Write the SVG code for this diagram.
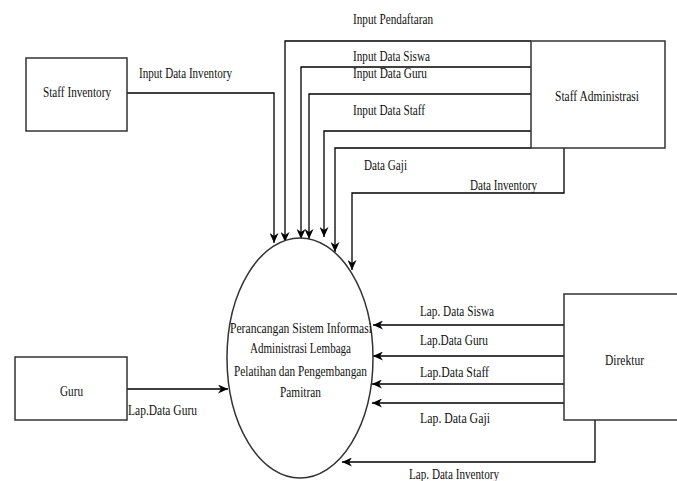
<svg xmlns="http://www.w3.org/2000/svg" width="677" height="481" viewBox="0 0 677 481">
<defs>
<marker id="arr" markerUnits="userSpaceOnUse" markerWidth="11" markerHeight="9" refX="10" refY="4.5" orient="auto">
<path d="M0,0 L10,4.5 L0,9 L3,4.5 z" fill="#000"/>
</marker>
<style>
.box{fill:#fff;stroke:#333;stroke-width:1.5}
.c{fill:none;stroke:#000;stroke-width:1.3;marker-end:url(#arr)}
text{font-family:"Liberation Serif","Times New Roman",serif;font-size:14px;fill:#111}
.m{text-anchor:middle}
</style>
</defs>
<rect width="677" height="481" fill="#fff"/>
<g id="connectors">
<path class="c" d="M127,93 H274 V243"/>
<path class="c" d="M531,41 H285 V242"/>
<path class="c" d="M531,67 H301 V239"/>
<path class="c" d="M531,94 H309 V239"/>
<path class="c" d="M531,131 H324 V237"/>
<path class="c" d="M531,148 H335 V252"/>
<path class="c" d="M564,148 V193 H352 V270"/>
<path class="c" d="M127,389 H228"/>
<path class="c" d="M564,325 H373"/>
<path class="c" d="M564,356 H373"/>
<path class="c" d="M564,384 H372"/>
<path class="c" d="M564,403 H372"/>
<path class="c" d="M595,420 V462 H342"/>
</g>
<g id="labels">
<text x="139" y="78" textLength="93" lengthAdjust="spacingAndGlyphs">Input Data Inventory</text>
<text x="353" y="24" textLength="80" lengthAdjust="spacingAndGlyphs">Input Pendaftaran</text>
<text x="353" y="61" textLength="77" lengthAdjust="spacingAndGlyphs">Input Data Siswa</text>
<text x="353" y="78" textLength="74" lengthAdjust="spacingAndGlyphs">Input Data Guru</text>
<text x="353" y="115" textLength="72" lengthAdjust="spacingAndGlyphs">Input Data Staff</text>
<text x="364" y="170" textLength="43" lengthAdjust="spacingAndGlyphs">Data Gaji</text>
<text x="470" y="190" textLength="67" lengthAdjust="spacingAndGlyphs">Data Inventory</text>
<text x="128" y="415" textLength="69" lengthAdjust="spacingAndGlyphs">Lap.Data Guru</text>
<text x="420" y="316" textLength="74" lengthAdjust="spacingAndGlyphs">Lap. Data Siswa</text>
<text x="420" y="345" textLength="68" lengthAdjust="spacingAndGlyphs">Lap.Data Guru</text>
<text x="420" y="377" textLength="69" lengthAdjust="spacingAndGlyphs">Lap.Data Staff</text>
<text x="420" y="423" textLength="70" lengthAdjust="spacingAndGlyphs">Lap. Data Gaji</text>
<text x="409" y="479" textLength="90" lengthAdjust="spacingAndGlyphs">Lap. Data Inventory</text>
</g>
<g id="staff-inventory">
<rect class="box" x="26" y="58" width="101" height="73"/>
<text x="43" y="97" textLength="68" lengthAdjust="spacingAndGlyphs">Staff Inventory</text>
</g>
<g id="staff-administrasi">
<rect class="box" x="531" y="41" width="134" height="107"/>
<text x="555" y="101" textLength="84" lengthAdjust="spacingAndGlyphs">Staff Administrasi</text>
</g>
<g id="guru">
<rect class="box" x="15" y="357" width="112" height="63"/>
<text x="60" y="396" textLength="23" lengthAdjust="spacingAndGlyphs">Guru</text>
</g>
<g id="direktur">
<rect class="box" x="564" y="294" width="120" height="126"/>
<text x="605" y="365" textLength="39" lengthAdjust="spacingAndGlyphs">Direktur</text>
</g>
<g id="proses">
<ellipse cx="300" cy="358" rx="73" ry="120" fill="#fff" stroke="#333" stroke-width="1.5"/>
<text x="230" y="333" textLength="142" lengthAdjust="spacingAndGlyphs">Perancangan Sistem Informasi</text>
<text x="250" y="353" textLength="101" lengthAdjust="spacingAndGlyphs">Administrasi Lembaga</text>
<text x="234" y="376" textLength="133" lengthAdjust="spacingAndGlyphs">Pelatihan dan Pengembangan</text>
<text x="280" y="397" textLength="41" lengthAdjust="spacingAndGlyphs">Pamitran</text>
</g>
</svg>
